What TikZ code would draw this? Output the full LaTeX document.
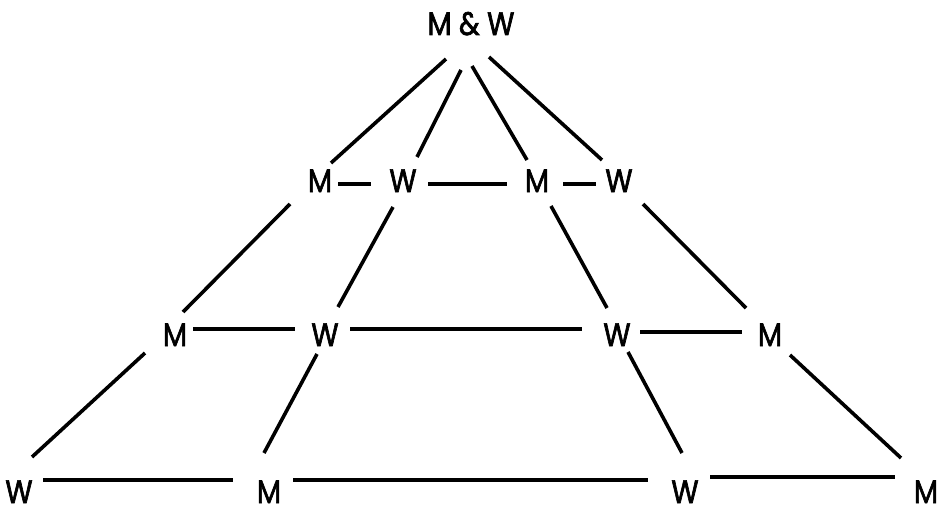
\documentclass[tikz,border=0pt]{standalone}
\usepackage{fontspec}
\setmainfont{Poppins}
\newfontfamily\lblfont[FakeBold=2,FakeStretch=0.86]{Poppins}
\begin{document}
\begin{tikzpicture}[x=1pt,y=-1pt,
  lbl/.style={anchor=base,inner sep=0pt,text depth=0pt,font=\lblfont\fontsize{32.5}{33}\selectfont},
  conn/.style={line width=3.6pt,black}]
\useasboundingbox (0,0) rectangle (942,508);
% nodes (base points)
\node[lbl] (T) at (471,35) {M \& W};
\node[lbl] (A) at (320,192) {M};
\node[lbl] (B) at (403,192) {W};
\node[lbl] (C) at (537,192) {M};
\node[lbl] (D) at (619,192) {W};
\node[lbl] (E) at (175,346) {M};
\node[lbl] (F) at (325,346) {W};
\node[lbl] (G) at (617,346) {W};
\node[lbl] (H) at (770,346) {M};
\node[lbl] (I) at (19,503) {W};
\node[lbl] (J) at (269,503) {M};
\node[lbl] (K) at (685,503) {W};
\node[lbl] (L) at (926,503) {M};
% top fan
\draw[conn] ([shift={(-25,24)}]T.base) -- ([shift={(11,-29)}]A.base);
\draw[conn] ([shift={(-10,35)}]T.base) -- ([shift={(14,-35)}]B.base);
\draw[conn] ([shift={(1,31)}]T.base) -- ([shift={(-10,-32)}]C.base);
\draw[conn] ([shift={(18,22)}]T.base) -- ([shift={(-17,-32)}]D.base);
% row 2 horizontals
\draw[conn] ([shift={(18,-8)}]A.base) -- ([shift={(-32,-8)}]B.base);
\draw[conn] ([shift={(25,-8)}]B.base) -- ([shift={(-30,-8)}]C.base);
\draw[conn] ([shift={(26,-8)}]C.base) -- ([shift={(-23,-8)}]D.base);
% row 2 to row 3
\draw[conn] ([shift={(-30,12)}]A.base) -- ([shift={(8,-34)}]E.base);
\draw[conn] ([shift={(-10,15)}]B.base) -- ([shift={(13,-39)}]F.base);
\draw[conn] ([shift={(14,14)}]C.base) -- ([shift={(-10,-38)}]G.base);
\draw[conn] ([shift={(24,12)}]D.base) -- ([shift={(-24,-38)}]H.base);
% row 3 horizontals
\draw[conn] ([shift={(18,-17)}]E.base) -- ([shift={(-30,-17)}]F.base);
\draw[conn] ([shift={(25,-17)}]F.base) -- ([shift={(-35,-17)}]G.base);
\draw[conn] ([shift={(23,-14)}]G.base) -- ([shift={(-28,-14)}]H.base);
% row 3 to row 4
\draw[conn] ([shift={(-30,7)}]E.base) -- ([shift={(13,-46)}]I.base);
\draw[conn] ([shift={(-8,8)}]F.base) -- ([shift={(-5,-50)}]J.base);
\draw[conn] ([shift={(11,6)}]G.base) -- ([shift={(-3,-50)}]K.base);
\draw[conn] ([shift={(20,9)}]H.base) -- ([shift={(-25,-45)}]L.base);
% row 4 horizontals
\draw[conn] ([shift={(24,-23)}]I.base) -- ([shift={(-36,-23)}]J.base);
\draw[conn] ([shift={(24,-23)}]J.base) -- ([shift={(-37,-23)}]K.base);
\draw[conn] ([shift={(25,-26)}]K.base) -- ([shift={(-31,-26)}]L.base);
\end{tikzpicture}
\end{document}
